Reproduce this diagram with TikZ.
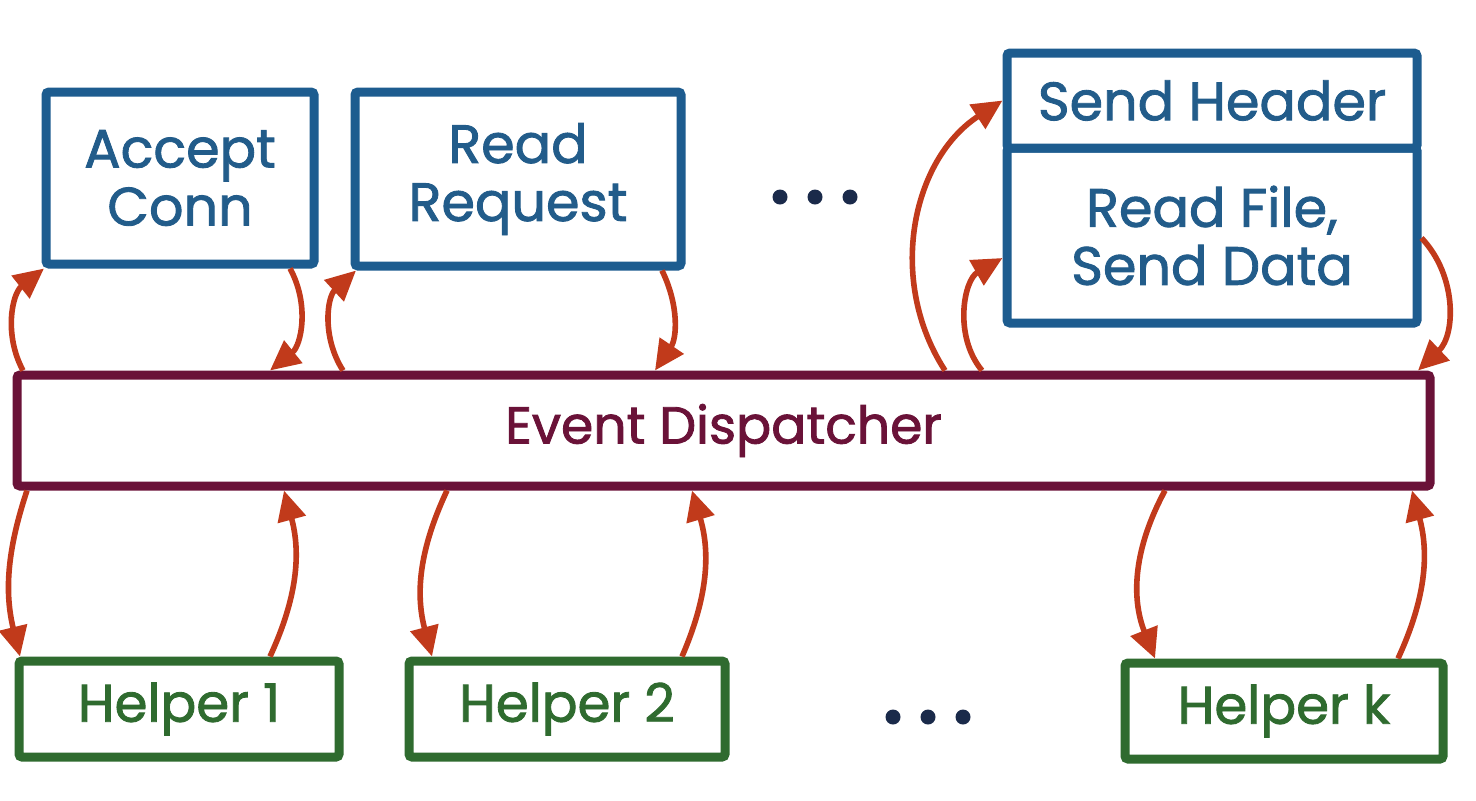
\documentclass[tikz,border=0pt]{standalone}
\usepackage{fontspec}
\setmainfont{Poppins}[UprightFeatures={FakeBold=1.6}]
\usetikzlibrary{arrows.meta}
\definecolor{boxblue}{HTML}{1D5C8F}
\definecolor{txtblue}{HTML}{225C8A}
\definecolor{dispred}{HTML}{6A1238}
\definecolor{helpgreen}{HTML}{2F6B2F}
\definecolor{arrred}{HTML}{C13A1B}
\definecolor{dotnavy}{HTML}{1A2A4A}
\tikzset{
  topbox/.style={draw=boxblue, line width=4.5pt, rounded corners=1.5pt, fill=white, text=txtblue, align=center, font=\fontsize{27}{29}\selectfont, inner sep=0pt},
  dispbox/.style={draw=dispred, line width=4.5pt, rounded corners=1.5pt, fill=white, text=dispred, font=\fontsize{26}{28}\selectfont, inner sep=0pt},
  helpbox/.style={draw=helpgreen, line width=4.5pt, rounded corners=1.5pt, fill=white, text=helpgreen, font=\fontsize{26.5}{28}\selectfont, inner sep=0pt},
  flow/.style={draw=arrred, line width=2.8pt, -{Triangle[length=15pt,width=14pt]}},
  dot/.style={fill=dotnavy}
}
\begin{document}
\begin{tikzpicture}[x=0.5pt,y=0.5pt]
\useasboundingbox (0,0) rectangle (1476,-800);
\fill[white] (0,0) rectangle (1476,-800);

% top boxes
\node[topbox, minimum width=134pt, minimum height=86pt] (accept) at (180,-178) {Accept\\Conn};
\node[topbox, minimum width=163pt, minimum height=87pt] (read) at (518,-179) {Read\\Request};
\node[topbox, minimum width=205pt, minimum height=87.5pt] (readfile) at (1212,-235.5) {Read File,\\Send Data};
\node[topbox, minimum width=205pt, minimum height=47.5pt] (sendhdr) at (1212,-100.5) {Send Header};

% dispatcher
\node[dispbox, minimum width=706.5pt, minimum height=55.5pt] (disp) at (723.5,-430.5) {Event Dispatcher};

% helpers
\node[helpbox, minimum width=160pt, minimum height=48pt] (h1) at (179,-709) {Helper 1};
\node[helpbox, minimum width=158pt, minimum height=48pt] (h2) at (567,-709) {Helper 2};
\node[helpbox, minimum width=159pt, minimum height=48pt] (hk) at (1284,-711) {Helper k};

% dots
\foreach \x in {780,815,850} \fill[dot] (\x,-197) circle (7.5);
\foreach \x in {893,928,963} \fill[dot] (\x,-717) circle (7.5);

% top arrows
\draw[flow] (23,0 |- disp.north) to[bend left=40] (44,0 |- accept.south);
\draw[flow] (290,0 |- accept.south) to[bend left=40] (270,0 |- disp.north);
\draw[flow] (343,0 |- disp.north) to[bend left=40] (356,0 |- read.south);
\draw[flow] (662,0 |- read.south) to[bend left=30] (655,0 |- disp.north);
\draw[flow] (945,0 |- disp.north) to[bend left=45] (sendhdr.west);
\draw[flow] (982,0 |- disp.north) to[bend left=50] (readfile.west |- 0,-258);
\draw[flow] (readfile.east |- 0,-238) to[bend left=45] (1418,0 |- disp.north);

% bottom arrows
\draw[flow] (27,0 |- disp.south) to[bend right=16] (20,0 |- h1.north);
\draw[flow] (270,0 |- h1.north) to[bend right=20] (284,0 |- disp.south);
\draw[flow] (447,0 |- disp.south) to[bend right=20] (432,0 |- h2.north);
\draw[flow] (682,0 |- h2.north) to[bend right=20] (692,0 |- disp.south);
\draw[flow] (1165,0 |- disp.south) to[bend right=25] (1155,0 |- hk.north);
\draw[flow] (1398,0 |- hk.north) to[bend right=20] (1412,0 |- disp.south);
\end{tikzpicture}
\end{document}
